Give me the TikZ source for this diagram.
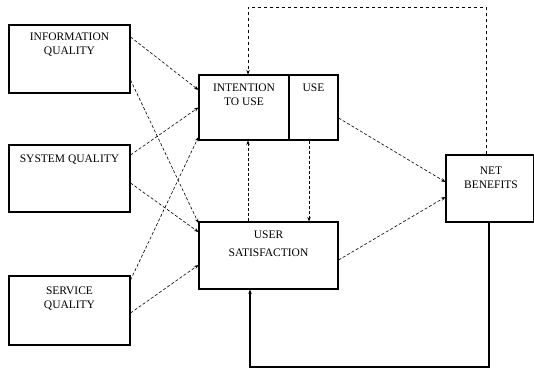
\documentclass[tikz,border=0pt]{standalone}
\usepackage{fontspec}
\setmainfont{Liberation Serif}
\usetikzlibrary{arrows.meta}
\begin{document}
\begin{tikzpicture}[x=1pt,y=-1pt,
  box/.style={draw, line width=1.1pt, inner sep=0pt},
  lbl/.style={font=\fontsize{11.5}{14}\selectfont, align=center, inner sep=0pt},
  link/.style={line width=0.6pt, densely dashed, -{Stealth[length=4.5pt,width=3.5pt]}},
  topfb/.style={line width=0.6pt, dashed, -{Stealth[length=4.5pt,width=3.5pt]}},
  botfb/.style={line width=1.1pt, -{Stealth[length=4.5pt,width=3.5pt]}}]
\useasboundingbox (0,0) rectangle (534,369);

% quality dimensions
\node[box, minimum width=121pt, minimum height=68pt] (info) at (69.5,59) {};
\node[box, minimum width=121pt, minimum height=67pt] (sys)  at (69.5,178.5) {};
\node[box, minimum width=121pt, minimum height=69pt] (serv) at (69.5,310.5) {};
\node[lbl] (infot) at (69.5,45) {INFORMATION\\QUALITY};
\node[lbl] (syst)  at (69.5,160) {SYSTEM QUALITY};
\node[lbl] (servt) at (69.5,299) {SERVICE\\QUALITY};

% use / satisfaction / benefits
\node[box, minimum width=90pt, minimum height=65pt] (itu) at (244,107.5) {};
\node[box, minimum width=49pt, minimum height=65pt] (use) at (313.5,107.5) {};
\node[box, minimum width=139pt, minimum height=67pt] (sat) at (268.5,255.5) {};
\node[box, minimum width=88pt, minimum height=67pt] (net) at (490,188.5) {};
\node[lbl] (itut) at (244,95) {INTENTION\\TO USE};
\node[lbl] (uset) at (313.5,88) {USE};
\node[lbl, font=\fontsize{11.5}{18}\selectfont] (satt) at (268.5,244) {USER\\SATISFACTION};
\node[lbl] (nett) at (491,178) {NET\\BENEFITS};

% quality -> use / satisfaction
\draw[link] ([yshift=22pt]info.east) -- ([yshift=17.5pt]itu.west);
\draw[link] ([yshift=-21pt]info.east) -- ([yshift=32.5pt]sat.west);
\draw[link] ([yshift=23.5pt]sys.east) -- (itu.west);
\draw[link] ([yshift=-4.5pt]sys.east) -- ([yshift=23.5pt]sat.west);
\draw[link] ([yshift=30.5pt]serv.east) -- ([yshift=-29.5pt]itu.west);
\draw[link] ([yshift=-2.5pt]serv.east) -- ([yshift=-9.5pt]sat.west);

% use <-> satisfaction
\draw[link] ([xshift=4pt]itu.south |- sat.north) -- ([xshift=4pt]itu.south);
\draw[link] ([xshift=-4.5pt]use.south) -- ([xshift=-4.5pt]use.south |- sat.north);

% -> net benefits
\draw[link] ([yshift=-10.5pt]use.east) -- ([yshift=6.5pt]net.west);
\draw[link] ([yshift=-4.5pt]sat.east) -- ([yshift=-8.5pt]net.west);

% feedback loops
\coordinate (tr) at (486,7);
\coordinate (tl) at (248,7);
\draw[topfb] (tr |- net.north) -- (tr) -- (tl) -- (tl |- itu.north);
\coordinate (br) at (489,367);
\coordinate (bl) at (250,367);
\draw[botfb] (br |- net.south) -- (br) -- (bl) -- (bl |- sat.south);
\end{tikzpicture}
\end{document}
